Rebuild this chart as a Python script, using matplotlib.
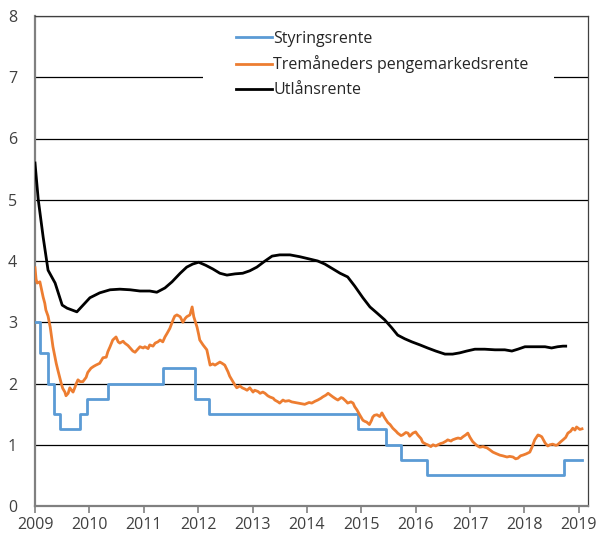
import matplotlib
matplotlib.use("Agg")
import matplotlib.pyplot as plt
from matplotlib.patches import Rectangle

plt.rcParams['font.family'] = ['Open Sans', 'DejaVu Sans']

# Styringsrente (policy rate), step dates and values
policy_dates = [2009.00, 2009.09, 2009.23, 2009.35, 2009.46, 2009.82, 2009.96, 2010.34,
                2011.36, 2011.95, 2012.20, 2014.94, 2015.46, 2015.73, 2016.21, 2018.72, 2019.06]
policy_vals = [3.00, 2.50, 2.00, 1.50, 1.25, 1.50, 1.75, 2.00,
               2.25, 1.75, 1.50, 1.25, 1.00, 0.75, 0.50, 0.75, 0.75]

# Tremåneders pengemarkedsrente (3-month money market rate)
mm_dates = [2009.00, 2009.02, 2009.04, 2009.09, 2009.15, 2009.18, 2009.20, 2009.24, 2009.28, 2009.33,
            2009.39, 2009.42, 2009.48, 2009.51, 2009.55, 2009.57, 2009.61, 2009.64, 2009.68, 2009.70,
            2009.74, 2009.75, 2009.79, 2009.83, 2009.88, 2009.94, 2009.97, 2010.03, 2010.08, 2010.12,
            2010.19, 2010.25, 2010.31, 2010.34, 2010.38, 2010.43, 2010.49, 2010.53, 2010.56, 2010.62,
            2010.65, 2010.71, 2010.75, 2010.80, 2010.84, 2010.89, 2010.93, 2010.99, 2011.02, 2011.08,
            2011.11, 2011.17, 2011.21, 2011.26, 2011.30, 2011.35, 2011.39, 2011.43, 2011.48, 2011.54,
            2011.57, 2011.61, 2011.67, 2011.72, 2011.76, 2011.79, 2011.85, 2011.89, 2011.92, 2011.98,
            2012.01, 2012.03, 2012.09, 2012.16, 2012.22, 2012.27, 2012.31, 2012.40, 2012.44, 2012.49,
            2012.55, 2012.58, 2012.64, 2012.68, 2012.71, 2012.77, 2012.81, 2012.86, 2012.90, 2012.95,
            2013.01, 2013.04, 2013.10, 2013.14, 2013.19, 2013.23, 2013.28, 2013.32, 2013.38, 2013.41,
            2013.47, 2013.50, 2013.56, 2013.60, 2013.67, 2013.72, 2013.78, 2013.83, 2013.91, 2013.96,
            2014.04, 2014.09, 2014.15, 2014.20, 2014.26, 2014.29, 2014.35, 2014.39, 2014.42, 2014.48,
            2014.53, 2014.57, 2014.63, 2014.66, 2014.72, 2014.75, 2014.81, 2014.85, 2014.88, 2014.92,
            2014.97, 2015.03, 2015.07, 2015.10, 2015.15, 2015.19, 2015.21, 2015.24, 2015.29, 2015.34,
            2015.38, 2015.43, 2015.49, 2015.53, 2015.58, 2015.64, 2015.67, 2015.73, 2015.76, 2015.82,
            2015.86, 2015.89, 2015.95, 2016.00, 2016.04, 2016.10, 2016.13, 2016.19, 2016.22, 2016.28,
            2016.32, 2016.37, 2016.41, 2016.46, 2016.50, 2016.56, 2016.59, 2016.65, 2016.68, 2016.74,
            2016.78, 2016.83, 2016.87, 2016.92, 2016.96, 2017.00, 2017.05, 2017.11, 2017.14, 2017.18,
            2017.24, 2017.27, 2017.31, 2017.36, 2017.42, 2017.47, 2017.55, 2017.60, 2017.68, 2017.73,
            2017.79, 2017.84, 2017.88, 2017.93, 2017.97, 2018.03, 2018.10, 2018.14, 2018.19, 2018.25,
            2018.28, 2018.32, 2018.38, 2018.43, 2018.47, 2018.52, 2018.58, 2018.61, 2018.67, 2018.71,
            2018.76, 2018.80, 2018.85, 2018.89, 2018.93, 2018.96, 2019.02, 2019.06]
mm_vals = [3.89, 3.70, 3.64, 3.66, 3.41, 3.31, 3.20, 3.10, 2.92, 2.60,
           2.33, 2.22, 2.01, 1.92, 1.86, 1.80, 1.84, 1.93, 1.88, 1.86,
           1.95, 1.98, 2.06, 2.03, 2.03, 2.10, 2.18, 2.25, 2.28, 2.30,
           2.33, 2.42, 2.43, 2.52, 2.60, 2.71, 2.76, 2.68, 2.66, 2.69,
           2.66, 2.62, 2.58, 2.53, 2.51, 2.56, 2.60, 2.58, 2.60, 2.57,
           2.63, 2.61, 2.66, 2.68, 2.71, 2.68, 2.76, 2.82, 2.90, 3.04,
           3.10, 3.12, 3.09, 3.00, 3.06, 3.09, 3.12, 3.25, 3.09, 2.92,
           2.80, 2.71, 2.63, 2.55, 2.30, 2.32, 2.30, 2.35, 2.33, 2.30,
           2.19, 2.12, 2.03, 1.97, 1.93, 1.96, 1.93, 1.91, 1.89, 1.93,
           1.86, 1.89, 1.87, 1.84, 1.86, 1.84, 1.80, 1.78, 1.76, 1.73,
           1.70, 1.68, 1.73, 1.71, 1.72, 1.70, 1.69, 1.68, 1.67, 1.66,
           1.69, 1.68, 1.71, 1.73, 1.76, 1.78, 1.81, 1.84, 1.82, 1.78,
           1.75, 1.73, 1.77, 1.76, 1.71, 1.68, 1.70, 1.68, 1.62, 1.57,
           1.49, 1.40, 1.38, 1.37, 1.33, 1.40, 1.45, 1.48, 1.49, 1.46,
           1.52, 1.44, 1.36, 1.33, 1.27, 1.22, 1.19, 1.15, 1.16, 1.20,
           1.19, 1.14, 1.19, 1.21, 1.16, 1.10, 1.04, 1.01, 1.00, 0.97,
           1.00, 0.98, 1.00, 1.02, 1.03, 1.06, 1.08, 1.06, 1.08, 1.10,
           1.11, 1.10, 1.13, 1.16, 1.19, 1.12, 1.05, 1.00, 0.98, 0.96,
           0.97, 0.96, 0.95, 0.92, 0.88, 0.86, 0.83, 0.82, 0.80, 0.81,
           0.80, 0.77, 0.78, 0.82, 0.83, 0.85, 0.88, 0.96, 1.08, 1.16,
           1.15, 1.13, 1.03, 0.98, 1.00, 1.01, 0.99, 1.00, 1.05, 1.08,
           1.12, 1.19, 1.22, 1.27, 1.24, 1.29, 1.25, 1.26]

# Utlånsrente (lending rate)
lend_dates = [2009.00, 2009.06, 2009.15, 2009.24, 2009.37, 2009.50, 2009.59, 2009.77, 2010.01, 2010.19,
              2010.38, 2010.56, 2010.75, 2010.93, 2011.11, 2011.24, 2011.39, 2011.52, 2011.67, 2011.79,
              2011.90, 2012.01, 2012.14, 2012.27, 2012.40, 2012.53, 2012.68, 2012.82, 2012.95, 2013.08,
              2013.23, 2013.36, 2013.50, 2013.69, 2013.87, 2014.06, 2014.20, 2014.33, 2014.48, 2014.61,
              2014.75, 2014.88, 2015.03, 2015.16, 2015.29, 2015.43, 2015.56, 2015.67, 2015.80, 2015.93,
              2016.08, 2016.22, 2016.37, 2016.54, 2016.68, 2016.81, 2016.94, 2017.09, 2017.27, 2017.46,
              2017.64, 2017.77, 2017.88, 2018.01, 2018.19, 2018.38, 2018.50, 2018.61, 2018.71, 2018.76]
lend_vals = [5.60, 5.00, 4.39, 3.85, 3.64, 3.28, 3.23, 3.17, 3.40, 3.48,
             3.53, 3.54, 3.53, 3.51, 3.51, 3.49, 3.56, 3.66, 3.80, 3.90,
             3.95, 3.98, 3.93, 3.87, 3.80, 3.77, 3.79, 3.80, 3.84, 3.90,
             4.00, 4.08, 4.10, 4.10, 4.07, 4.03, 4.00, 3.95, 3.87, 3.80,
             3.74, 3.59, 3.40, 3.25, 3.15, 3.04, 2.91, 2.79, 2.73, 2.68,
             2.63, 2.58, 2.53, 2.48, 2.48, 2.50, 2.53, 2.56, 2.56, 2.55,
             2.55, 2.53, 2.56, 2.60, 2.60, 2.60, 2.58, 2.60, 2.61, 2.61]

x_ticks = [2009, 2010, 2011, 2012, 2013, 2014, 2015, 2016, 2017, 2018, 2019]
y_ticks = [0, 1, 2, 3, 4, 5, 6, 7, 8]
labels = ["Styringsrente", "Tremåneders pengemarkedsrente", "Utlånsrente"]

fig = plt.figure(figsize=(5.98, 5.37), dpi=100)
ax = fig.add_axes([35/598, 1-506/537, (588-35)/598, (506-16)/537])

c_blue = "#5B9BD5"
c_orange = "#ED7D31"
c_black = "#000000"

ax.step(policy_dates, policy_vals, where="post", color=c_blue, lw=2.0, label=labels[0], zorder=3)
ax.plot(mm_dates, mm_vals, color=c_orange, lw=2.0, label=labels[1], zorder=3)
ax.plot(lend_dates, lend_vals, color=c_black, lw=2.0, label=labels[2], zorder=4)

ax.set_xlim(2009.0, 2019.17)
ax.set_ylim(0, 8)
ax.set_xticks(x_ticks)
ax.set_xticklabels([str(t) for t in x_ticks])
ax.set_yticks(y_ticks)
ax.set_yticklabels([str(t) for t in y_ticks])

ax.yaxis.grid(True, color="#000000", lw=0.9, zorder=1)
ax.set_axisbelow(True)

for s in ["top", "right"]:
    ax.spines[s].set_color("#404040")
    ax.spines[s].set_linewidth(0.9)
for s in ["left", "bottom"]:
    ax.spines[s].set_color("#808080")
    ax.spines[s].set_linewidth(1.6)

ax.tick_params(axis="x", direction="out", length=5, width=1.2, color="#808080",
               labelsize=11.5, labelcolor="#404040", pad=3)
ax.tick_params(axis="y", length=0, labelsize=11.5, labelcolor="#404040", pad=13)

# white background behind legend (interrupts the gridline at 7)
ax.add_patch(Rectangle((0.3038, 0.84), 0.9385 - 0.3038, 0.12, transform=ax.transAxes,
                       facecolor="white", edgecolor="none", zorder=2))

leg = ax.legend(loc="upper left", bbox_to_anchor=(0.3635, 0.970),
                frameon=False, fontsize=11.5, handlelength=2.25, handletextpad=0.08,
                labelspacing=0.55, borderpad=0, borderaxespad=0)
for t in leg.get_texts():
    t.set_color("#262626")

fig.savefig("out.png", dpi=100)
